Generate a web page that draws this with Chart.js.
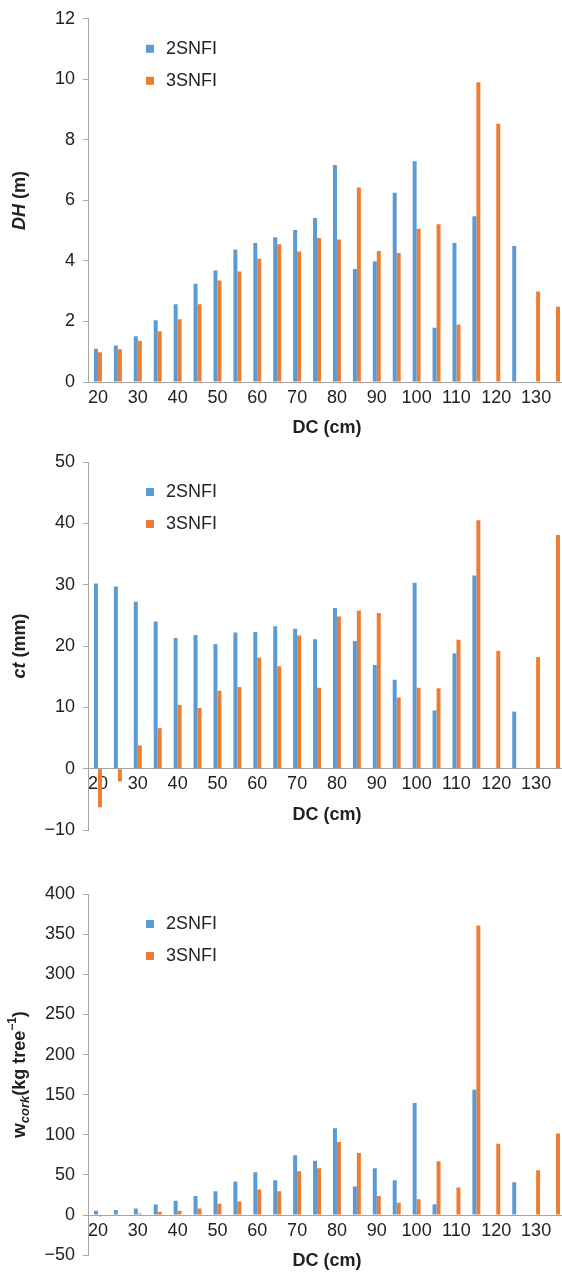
<!DOCTYPE html>
<html>
<head>
<meta charset="utf-8">
<script src="https://cdn.jsdelivr.net/npm/chart.js@4.4.0/dist/chart.umd.min.js"></script>
<style>
  html, body { margin: 0; padding: 0; background: #fff; overflow: hidden; }
  #wrap { position: relative; width: 562px; height: 1274px; overflow: hidden; }
  canvas { position: absolute; left: 0; }
</style>
</head>
<body>
<div id="wrap">
  <canvas id="dhChart" width="568" height="440" style="top:0px"></canvas>
  <canvas id="ctChart" width="568" height="410" style="top:440px"></canvas>
  <canvas id="corkChart" width="568" height="404" style="top:870px"></canvas>
</div>
<script>
// diameter classes (cm)
const classes = [20, 25, 30, 35, 40, 45, 50, 55, 60, 65, 70, 75, 80, 85, 90, 95, 100, 105, 110, 115, 120, 125, 130, 135];

// DH (m)
const dh2 = [1.10, 1.21, 1.51, 2.04, 2.57, 3.25, 3.68, 4.38, 4.59, 4.78, 5.02, 5.42, 7.17, 3.73, 3.99, 6.25, 7.29, 1.79, 4.59, 5.48, null, 4.49, null, null];
const dh3 = [0.98, 1.08, 1.36, 1.68, 2.07, 2.57, 3.35, 3.65, 4.07, 4.55, 4.31, 4.76, 4.71, 6.43, 4.33, 4.26, 5.06, 5.21, 1.90, 9.90, 8.53, null, 2.99, 2.49];

// ct (mm)
const ct2 = [30.2, 29.7, 27.2, 24.0, 21.3, 21.8, 20.3, 22.2, 22.3, 23.2, 22.8, 21.1, 26.2, 20.8, 16.9, 14.5, 30.3, 9.5, 18.8, 31.5, null, 9.3, null, null];
const ct3 = [-6.3, -2.1, 3.8, 6.6, 10.4, 9.9, 12.7, 13.3, 18.1, 16.7, 21.7, 13.2, 24.8, 25.8, 25.4, 11.6, 13.2, 13.1, 21.0, 40.5, 19.2, null, 18.2, 38.1];

// w cork (kg tree-1)
const cork2 = [5.4, 6.2, 8.3, 13.2, 17.8, 23.6, 29.8, 41.7, 53.3, 43.4, 74.4, 67.8, 108.3, 35.5, 58.3, 43.4, 139.7, 13.6, null, 156.2, null, 40.9, null, null];
const cork3 = [-1.5, null, 2.1, 4.1, 5.4, 8.3, 14.0, 17.0, 31.8, 29.8, 54.5, 58.3, 90.9, 77.3, 23.6, 15.3, 19.8, 66.9, 34.3, 360.7, 88.8, null, 55.8, 101.7];

const seriesNames = ['2SNFI', '3SNFI'];
const seriesColors = ['#5B9BD5', '#ED7D31'];

const fontFamily = '"Liberation Sans", Arial, Helvetica, sans-serif';
const axisGray = '#a6a6a6';
const textColor = '#222';

// legend drawn inside the plot, top-left
const innerLegend = {
    id: 'innerLegend',
    afterDraw(chart) {
        const ctx = chart.ctx;
        const top = chart.chartArea.top;
        ctx.save();
        ctx.font = '18px ' + fontFamily;
        ctx.textBaseline = 'middle';
        chart.data.datasets.forEach((ds, i) => {
            const y = top + 30 + i * 32;
            ctx.fillStyle = ds.backgroundColor;
            ctx.fillRect(146, y - 4, 8, 8);
            ctx.fillStyle = textColor;
            ctx.fillText(ds.label, 166, y);
        });
        ctx.restore();
    }
};

// rotated y title with mixed styles (italic, sub/superscript)
const yTitle = {
    id: 'yTitle',
    afterDraw(chart, args, opts) {
        const parts = opts.parts;
        if (!parts) return;
        const ctx = chart.ctx;
        const area = chart.chartArea;
        ctx.save();
        ctx.translate(20, (area.top + area.bottom) / 2);
        ctx.rotate(-Math.PI / 2);
        ctx.textBaseline = 'middle';
        ctx.fillStyle = textColor;
        let total = 0;
        parts.forEach(p => {
            ctx.font = p.font + ' ' + fontFamily;
            p.w = ctx.measureText(p.text).width;
            total += p.w;
        });
        let x = -total / 2;
        parts.forEach(p => {
            ctx.font = p.font + ' ' + fontFamily;
            ctx.fillText(p.text, x, p.dy || 0);
            x += p.w;
        });
        ctx.restore();
    }
};

function makeChart(id, data2, data3, yMin, yMax, step, pad, titleParts) {
    const ctx = document.getElementById(id).getContext('2d');
    return new Chart(ctx, {
        type: 'bar',
        data: {
            labels: classes,
            datasets: [{
                label: seriesNames[0],
                data: data2,
                backgroundColor: seriesColors[0],
                categoryPercentage: 0.4,
                barPercentage: 1.0
            }, {
                label: seriesNames[1],
                data: data3,
                backgroundColor: seriesColors[1],
                categoryPercentage: 0.4,
                barPercentage: 1.0
            }]
        },
        options: {
            responsive: false,
            animation: false,
            layout: { padding: { left: 0, right: 2, top: pad[0], bottom: pad[1] } },
            plugins: {
                legend: { display: false },
                tooltip: { enabled: false },
                yTitle: { parts: titleParts }
            },
            scales: {
                x: {
                    position: { y: 0 },
                    grid: { display: true, drawOnChartArea: false, drawTicks: false },
                    border: { display: true, color: axisGray, width: 1 },
                    ticks: {
                        autoSkip: false,
                        maxRotation: 0,
                        padding: 5,
                        color: textColor,
                        font: { family: fontFamily, size: 18 },
                        callback: function (val, i) {
                            return i % 2 === 0 ? this.getLabelForValue(val) : '';
                        }
                    },
                    title: {
                        display: true,
                        text: 'DC (cm)',
                        color: textColor,
                        padding: { top: 4, bottom: 0 },
                        font: { family: fontFamily, size: 18, weight: 'bold' }
                    }
                },
                y: {
                    min: yMin,
                    max: yMax,
                    afterFit: (scale) => { scale.width = 88; },
                    grid: { drawOnChartArea: false, drawTicks: true, tickLength: 5, color: axisGray },
                    border: { display: true, color: axisGray, width: 1 },
                    ticks: {
                        stepSize: step,
                        padding: 8,
                        color: textColor,
                        font: { family: fontFamily, size: 18 },
                        callback: v => String(v).replace('-', '\u2212')
                    }
                }
            }
        },
        plugins: [innerLegend, yTitle]
    });
}

const dhChart = makeChart('dhChart', dh2, dh3, 0, 12, 2, [18, 58], [
    { text: 'DH', font: 'italic bold 18px' },
    { text: ' (m)', font: 'bold 18px' }
]);

const ctChart = makeChart('ctChart', ct2, ct3, -10, 50, 10, [22, 20], [
    { text: 'ct', font: 'italic bold 18px' },
    { text: ' (mm)', font: 'bold 18px' }
]);

const corkChart = makeChart('corkChart', cork2, cork3, -50, 400, 50, [24, 17], [
    { text: 'w', font: 'bold 19px' },
    { text: 'cork', font: 'italic bold 13px', dy: 5 },
    { text: '(kg tree', font: 'bold 18px' },
    { text: '\u22121', font: 'bold 12px', dy: -7 },
    { text: ')', font: 'bold 18px' }
]);
</script>
</body>
</html>
